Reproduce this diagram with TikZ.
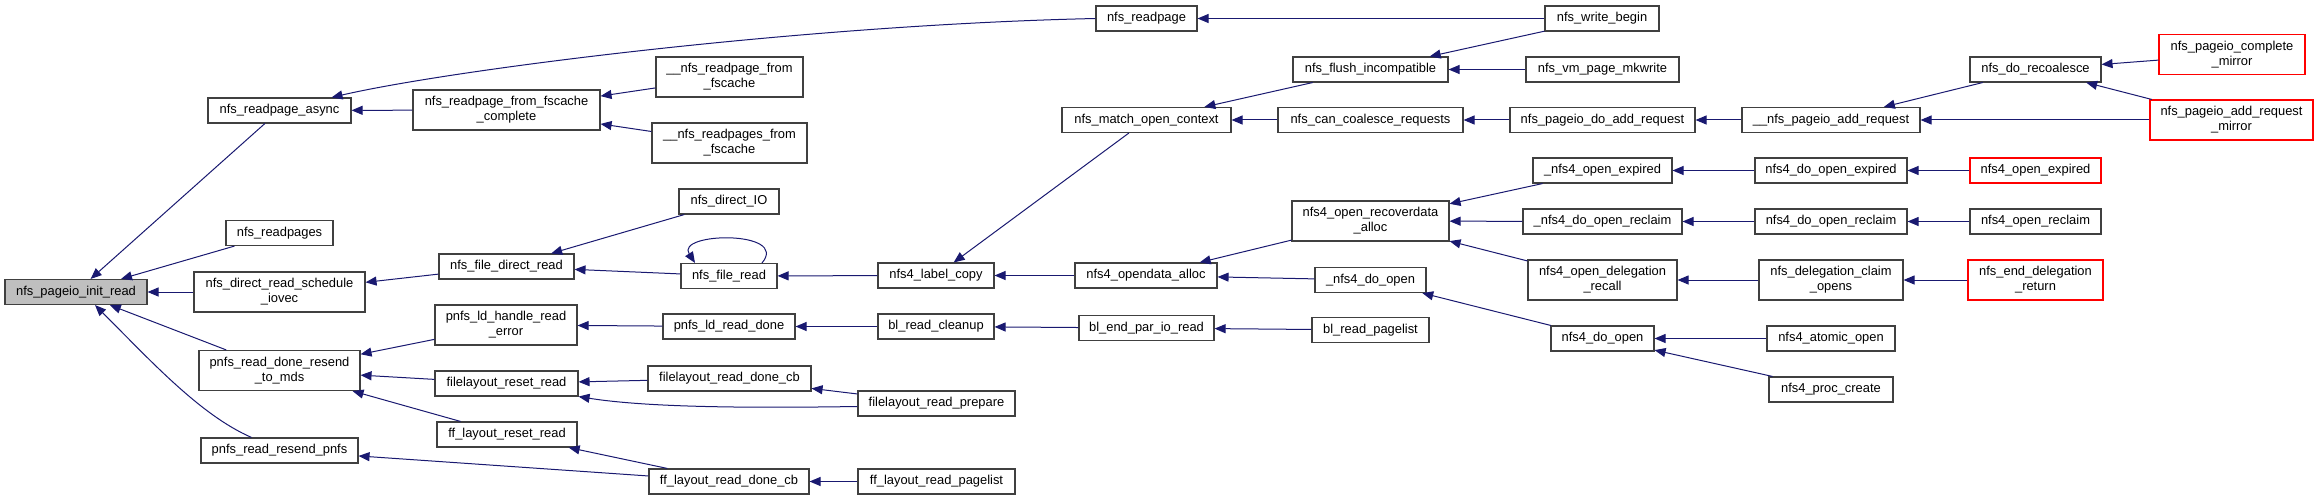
\documentclass[tikz,border=0pt]{standalone}
\usepackage{fontspec}
\setmainfont{Liberation Sans}
\usetikzlibrary{arrows.meta}
\definecolor{edgeblue}{HTML}{191970}
\definecolor{boxgray}{HTML}{404040}
\definecolor{hlgray}{HTML}{BFBFBF}

\begin{document}
\begin{tikzpicture}[x=1pt,y=-1pt,
fn/.style={draw=boxgray,line width=1.1pt,fill=white,minimum height=25pt,inner xsep=2pt,inner ysep=2pt,font=\fontsize{12.9}{15}\selectfont,align=center},
fn2/.style={fn,minimum height=40pt},
cur/.style={fn,fill=hlgray},
trunc/.style={fn2,draw=red},
call/.style={{Triangle[length=11pt,width=9pt]}-,draw=edgeblue,line width=1pt}]
\useasboundingbox (0,0) rectangle (2319,500);

\node[cur,minimum width=142pt] (initread) at (76,292) {nfs\_pageio\_init\_read};
\node[fn,minimum width=143pt] (readpageasync) at (279.5,110.5) {nfs\_readpage\_async};
\node[fn,minimum width=107pt] (readpages) at (279.5,233) {nfs\_readpages};
\node[fn2,minimum width=171pt] (iovec) at (279.5,292) {nfs\_direct\_read\_schedule\\\_iovec};
\node[fn2,minimum width=161pt] (resendmds) at (279.5,370.5) {pnfs\_read\_done\_resend\\\_to\_mds};
\node[fn,minimum width=157pt] (resendpnfs) at (279.5,450.5) {pnfs\_read\_resend\_pnfs};

\node[fn2,minimum width=187pt] (fscachecomplete) at (506.5,110) {nfs\_readpage\_from\_fscache\\\_complete};
\node[fn2,minimum width=147pt] (readpagefscache) at (729.5,77) {\_\_nfs\_readpage\_from\\\_fscache};
\node[fn2,minimum width=155pt] (readpagesfscache) at (729.5,143) {\_\_nfs\_readpages\_from\\\_fscache};
\node[fn,minimum width=100pt] (directio) at (729,201.5) {nfs\_direct\_IO};
\node[fn,minimum width=135pt] (filedirectread) at (506.5,266.5) {nfs\_file\_direct\_read};
\node[fn,minimum width=96pt] (fileread) at (729,276) {nfs\_file\_read};
\node[fn2,minimum width=142pt] (ldreaderror) at (506,325) {pnfs\_ld\_handle\_read\\\_error};
\node[fn,minimum width=132pt] (ldreaddone) at (729,326.5) {pnfs\_ld\_read\_done};
\node[fn,minimum width=143pt] (flresetread) at (506.5,383.5) {filelayout\_reset\_read};
\node[fn,minimum width=163pt] (flreaddonecb) at (729.5,378.5) {filelayout\_read\_done\_cb};
\node[fn,minimum width=140pt] (ffresetread) at (507,434.5) {ff\_layout\_reset\_read};
\node[fn,minimum width=160pt] (ffreaddonecb) at (729,481.5) {ff\_layout\_read\_done\_cb};

\node[fn,minimum width=101pt] (readpage) at (1146.5,18.5) {nfs\_readpage};
\node[fn,minimum width=169pt] (matchctx) at (1146.5,120) {nfs\_match\_open\_context};
\node[fn,minimum width=116pt] (labelcopy) at (936,275.5) {nfs4\_label\_copy};
\node[fn,minimum width=142pt] (opendataalloc) at (1146,275.5) {nfs4\_opendata\_alloc};
\node[fn,minimum width=116pt] (blcleanup) at (936,326.5) {bl\_read\_cleanup};
\node[fn,minimum width=135pt] (blendpar) at (1146.5,328) {bl\_end\_par\_io\_read};
\node[fn,minimum width=157pt] (flreadprepare) at (936.5,403.5) {filelayout\_read\_prepare};
\node[fn,minimum width=157pt] (ffreadpagelist) at (936.5,481.5) {ff\_layout\_read\_pagelist};

\node[fn,minimum width=155pt] (flushincompat) at (1370.5,69.5) {nfs\_flush\_incompatible};
\node[fn,minimum width=185pt] (cancoalesce) at (1370.5,120) {nfs\_can\_coalesce\_requests};
\node[fn2,minimum width=157pt] (recoverdata) at (1370.5,221) {nfs4\_open\_recoverdata\\\_alloc};
\node[fn,minimum width=111pt] (udoopen) at (1370.5,280) {\_nfs4\_do\_open};
\node[fn,minimum width=117pt] (blpagelist) at (1370.5,330) {bl\_read\_pagelist};

\node[fn,minimum width=114pt] (writebegin) at (1602,18.5) {nfs\_write\_begin};
\node[fn,minimum width=153pt] (mkwrite) at (1602.5,69.5) {nfs\_vm\_page\_mkwrite};
\node[fn,minimum width=185pt] (doaddreq) at (1602.5,120) {nfs\_pageio\_do\_add\_request};
\node[fn,minimum width=139pt] (uopenexpired) at (1602.5,170.5) {\_nfs4\_open\_expired};
\node[fn,minimum width=159pt] (udoopenreclaim) at (1602.5,221.5) {\_nfs4\_do\_open\_reclaim};
\node[fn2,minimum width=149pt] (delegrecall) at (1602.5,280) {nfs4\_open\_delegation\\\_recall};
\node[fn,minimum width=103pt] (doopen) at (1602.5,338.5) {nfs4\_do\_open};

\node[fn,minimum width=178pt] (uuaddreq) at (1831,120) {\_\_nfs\_pageio\_add\_request};
\node[fn,minimum width=152pt] (doopenexpired) at (1831,170.5) {nfs4\_do\_open\_expired};
\node[fn,minimum width=152pt] (doopenreclaim) at (1831,221.5) {nfs4\_do\_open\_reclaim};
\node[fn2,minimum width=144pt] (claimopens) at (1831,280) {nfs\_delegation\_claim\\\_opens};
\node[fn,minimum width=128pt] (atomicopen) at (1831,338.5) {nfs4\_atomic\_open};
\node[fn,minimum width=124pt] (proccreate) at (1831,389.5) {nfs4\_proc\_create};

\node[fn,minimum width=131pt] (recoalesce) at (2035.5,69.5) {nfs\_do\_recoalesce};
\node[trunc,minimum width=146pt] (completemirror) at (2232,54.5) {nfs\_pageio\_complete\\\_mirror};
\node[trunc,minimum width=163pt] (addreqmirror) at (2231.5,120) {nfs\_pageio\_add\_request\\\_mirror};
\node[fn,draw=red,minimum width=131pt] (openexpired) at (2035.5,170.5) {nfs4\_open\_expired};
\node[fn,minimum width=131pt] (openreclaim) at (2035.5,221.5) {nfs4\_open\_reclaim};
\node[trunc,minimum width=135pt] (enddeleg) at (2035.5,280) {nfs\_end\_delegation\\\_return};

\draw[call] (initread) -- (readpageasync);
\draw[call] (initread) -- (readpages);
\draw[call] (initread) -- (iovec);
\draw[call] (initread) -- (resendmds);
\draw[call] ([xshift=19pt]initread.south) .. controls (150,360) and (200,415) .. ([xshift=-28pt]resendpnfs.north);
\draw[call] ([xshift=-20pt]readpageasync.north east) .. controls (450,70) and (800,25) .. (readpage.west);
\draw[call] (readpageasync) -- (fscachecomplete);
\draw[call] (fscachecomplete) -- (readpagefscache);
\draw[call] (fscachecomplete) -- (readpagesfscache);
\draw[call] (iovec) -- (filedirectread);
\draw[call] (filedirectread) -- (directio);
\draw[call] (filedirectread) -- (fileread);
\draw[call] ([xshift=-34pt]fileread.north) .. controls (675,232) and (790,230) .. ([xshift=33pt]fileread.north);
\draw[call] (fileread) -- (labelcopy);
\draw[call] (labelcopy) -- (matchctx);
\draw[call] (labelcopy) -- (opendataalloc);
\draw[call] (matchctx) -- (flushincompat);
\draw[call] (matchctx) -- (cancoalesce);
\draw[call] (readpage) -- (writebegin);
\draw[call] (flushincompat) -- (writebegin);
\draw[call] (flushincompat) -- (mkwrite);
\draw[call] (cancoalesce) -- (doaddreq);
\draw[call] (doaddreq) -- (uuaddreq);
\draw[call] (uuaddreq) -- (recoalesce);
\draw[call] (uuaddreq) -- (addreqmirror);
\draw[call] (recoalesce) -- (completemirror);
\draw[call] (recoalesce) -- (addreqmirror);
\draw[call] (opendataalloc) -- (recoverdata);
\draw[call] (opendataalloc) -- (udoopen);
\draw[call] (recoverdata) -- (uopenexpired);
\draw[call] (recoverdata) -- (udoopenreclaim);
\draw[call] (recoverdata) -- (delegrecall);
\draw[call] (udoopen) -- (doopen);
\draw[call] (uopenexpired) -- (doopenexpired);
\draw[call] (doopenexpired) -- (openexpired);
\draw[call] (udoopenreclaim) -- (doopenreclaim);
\draw[call] (doopenreclaim) -- (openreclaim);
\draw[call] (delegrecall) -- (claimopens);
\draw[call] (claimopens) -- (enddeleg);
\draw[call] (doopen) -- (atomicopen);
\draw[call] (doopen) -- (proccreate);
\draw[call] (resendmds) -- (ldreaderror);
\draw[call] (resendmds) -- (flresetread);
\draw[call] (resendmds) -- (ffresetread);
\draw[call] (ldreaderror) -- (ldreaddone);
\draw[call] (ldreaddone) -- (blcleanup);
\draw[call] (blcleanup) -- (blendpar);
\draw[call] (blendpar) -- (blpagelist);
\draw[call] (flresetread) -- (flreaddonecb);
\draw[call] (flresetread.south east) .. controls (650,408) and (760,408) .. ([yshift=-3pt]flreadprepare.west);
\draw[call] (flreaddonecb) -- (flreadprepare);
\draw[call] (ffresetread) -- (ffreaddonecb);
\draw[call] (resendpnfs) -- (ffreaddonecb);
\draw[call] (ffreaddonecb) -- (ffreadpagelist);
\end{tikzpicture}
\end{document}
